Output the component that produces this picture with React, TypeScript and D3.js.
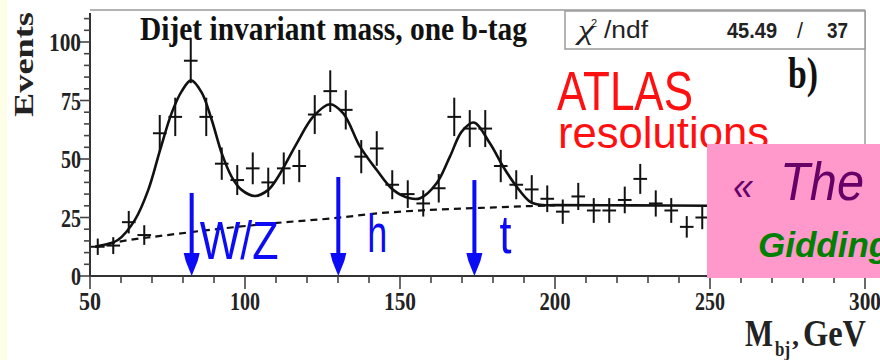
import React from 'react';
import * as d3 from 'd3';

// ---- data ----
const binCenters = [52.5, 57.5, 62.5, 67.5, 72.5, 77.5, 82.5, 87.5, 92.5, 97.5, 102.5, 107.5, 112.5, 117.5, 122.5, 127.5, 132.5, 137.5, 142.5, 147.5, 152.5, 157.5, 162.5, 167.5, 172.5, 177.5, 182.5, 187.5, 192.5, 197.5, 202.5, 207.5, 212.5, 217.5, 222.5, 227.5, 232.5, 237.5, 242.5, 247.5];
const events = [12.5, 13, 23, 17.5, 61, 68, 92, 68, 48, 41, 46, 40, 46, 47, 69, 79, 71, 51, 54.5, 39, 35, 31, 37.5, 68, 63, 63, 47, 39, 37, 33, 27.5, 34, 28, 28, 32.5, 41.5, 31, 28, 21, 25];
const eventErrors = [3.5, 3.6, 4.8, 4.2, 7.8, 8.2, 9.6, 8.2, 6.9, 6.4, 6.8, 6.3, 6.8, 6.9, 8.3, 8.9, 8.4, 7.1, 7.4, 6.2, 5.9, 5.6, 6.1, 8.2, 7.9, 7.9, 6.9, 6.2, 6.1, 5.7, 5.2, 5.8, 5.3, 5.3, 5.7, 6.4, 5.6, 5.3, 4.6, 5.0];
const binHalfWidth = 2.2;

const fitMass = [51.6, 55, 59, 64.5, 68.8, 72.6, 76.3, 79.6, 82.6, 86, 89.2, 92.5, 95.7, 98.9, 103.2, 107.5, 110.7, 116.7, 122, 127.4, 131.7, 137.1, 142.5, 147.8, 153.2, 156.5, 161.8, 166.1, 169.9, 173.8, 179, 183.3, 187.6, 191.9, 195.2, 200, 225, 250, 275, 300];
const fitEvents = [12.5, 13.5, 15.4, 24, 36.8, 53.8, 69.5, 79, 83.6, 78.5, 67, 52.4, 42.4, 36.8, 34.2, 36.8, 42.4, 56.7, 68.1, 73.4, 69.5, 55.3, 45.3, 36.8, 33.2, 33.2, 39.6, 51, 61.7, 65.6, 56.7, 46.7, 38.2, 31.8, 30.4, 30.3, 30.2, 30, 30, 30];

const bgMass = [52, 60, 75, 81, 113, 128, 143, 159, 176, 192, 200];
const bgEvents = [12.5, 14.8, 17.5, 18.5, 23, 24.6, 26.8, 28.2, 29.1, 29.9, 30.2];

const arrowMass = [82.8, 130.1, 174];
const arrowTop = [35.5, 42.3, 41];
const arrowLabels = ['W/Z', 'h', 't'];

const xTickLabels = [50, 100, 150, 200, 250, 300];
const yTickLabels = [0, 25, 50, 75, 100];
const titleText = 'Dijet invariant mass, one b-tag';
const chi2Value = '45.49';
const ndfValue = '37';

const W = 880;
const H = 360;

export default function App() {
  const x = d3.scaleLinear().domain([50, 300]).range([90, 865]);
  const y = d3.scaleLinear().domain([0, 100]).range([276, 42]);

  const fitLine = d3
    .line<number>()
    .x((_, i) => x(fitMass[i]))
    .y((d) => y(d))
    .curve(d3.curveCatmullRom.alpha(0.5));
  const bgLine = d3
    .line<number>()
    .x((_, i) => x(bgMass[i]))
    .y((d) => y(d))
    .curve(d3.curveMonotoneX);

  const minorX = d3.range(50, 301, 10);
  const minorY = d3.range(0, 111, 5);

  const serif = 'Liberation Serif, Times New Roman, serif';
  const sans = 'Liberation Sans, Arial, sans-serif';
  const blue = '#0b0bf5';

  const yLabelW: Record<number, number> = { 0: 10, 25: 20, 50: 20, 75: 20, 100: 32 };
  const xLabelW: Record<number, number> = { 50: 22, 100: 30, 150: 32, 200: 31, 250: 30, 300: 32 };
  const labelDx = [8, 29, 25];
  const labelBase = [259, 252, 253];
  const labelW = [79, 20, 12];

  return (
    <svg
      width={W}
      height={H}
      viewBox={`0 0 ${W} ${H}`}
      style={{ position: 'absolute', left: 0, top: 0, background: '#ffffff' }}
    >
      <rect x={0} y={0} width={W} height={H} fill="#ffffff" />
      <rect x={0} y={0} width={7} height={H} fill="#fdfde8" />

      {/* frame */}
      <line x1={90} x2={865} y1={10} y2={10} stroke="#9a9a9a" strokeWidth={1.5} />
      <line x1={865} x2={865} y1={10} y2={276} stroke="#9a9a9a" strokeWidth={1.5} />

      {/* y axis */}
      <line x1={90} x2={90} y1={13} y2={277} stroke="#333" strokeWidth={2} />
      {minorY.map((v) => (
        <line
          key={'yt' + v}
          x1={v % 25 === 0 ? 80 : 84}
          x2={90}
          y1={y(v)}
          y2={y(v)}
          stroke="#444"
          strokeWidth={1.6}
        />
      ))}
      {yTickLabels.map((v) => (
        <text
          key={'yl' + v}
          x={81 - yLabelW[v]}
          y={y(v) + 9}
          fontFamily={serif}
          fontWeight="bold"
          fontSize={26}
          fill="#222"
          textLength={yLabelW[v]}
          lengthAdjust="spacingAndGlyphs"
        >
          {v}
        </text>
      ))}

      {/* x axis */}
      <line x1={89} x2={865} y1={276} y2={276} stroke="#333" strokeWidth={2} />
      {minorX.map((v) => (
        <line
          key={'xt' + v}
          x1={x(v)}
          x2={x(v)}
          y1={276}
          y2={v % 50 === 0 ? 289 : 283}
          stroke="#444"
          strokeWidth={1.6}
        />
      ))}
      {xTickLabels.map((v) => (
        <text
          key={'xl' + v}
          x={x(v) - xLabelW[v] / 2}
          y={310}
          fontFamily={serif}
          fontWeight="bold"
          fontSize={26}
          fill="#222"
          textLength={xLabelW[v]}
          lengthAdjust="spacingAndGlyphs"
        >
          {v}
        </text>
      ))}

      {/* axis titles */}
      <text
        transform="translate(33,117) rotate(-90)"
        x={0}
        y={0}
        fontFamily={serif}
        fontWeight="bold"
        fontSize={27}
        fill="#222"
        textLength={105}
        lengthAdjust="spacingAndGlyphs"
      >
        Events
      </text>
      <text x={745} y={346} fontFamily={serif} fontWeight="bold" fontSize={37} fill="#222" textLength={28} lengthAdjust="spacingAndGlyphs">
        M
      </text>
      <text x={775} y={356} fontFamily={serif} fontWeight="bold" fontSize={22} fill="#222" textLength={15} lengthAdjust="spacingAndGlyphs">
        bj
      </text>
      <text x={792} y={345} fontFamily={serif} fontWeight="bold" fontSize={28} fill="#222">
        ,
      </text>
      <text x={803} y={346} fontFamily={serif} fontWeight="bold" fontSize={37} fill="#222" textLength={63} lengthAdjust="spacingAndGlyphs">
        GeV
      </text>

      {/* title */}
      <text x={140} y={40} fontFamily={serif} fontWeight="bold" fontSize={34} fill="#111" textLength={387} lengthAdjust="spacingAndGlyphs">
        {titleText}
      </text>

      {/* chi2 box */}
      <rect x={565} y={11} width={300} height={38} fill="#fff" stroke="#9a9a9a" strokeWidth={1.5} />
      <text x={578} y={39} fontFamily={serif} fontStyle="italic" fontSize={27} fill="#222" textLength={16} lengthAdjust="spacingAndGlyphs">
        χ
      </text>
      <text x={591} y={27} fontFamily={sans} fontSize={11} fill="#222">
        2
      </text>
      <text x={604} y={38} fontFamily={sans} fontSize={23} fill="#222" textLength={44} lengthAdjust="spacingAndGlyphs">
        /ndf
      </text>
      <text x={727} y={38} fontFamily={sans} fontWeight="bold" fontSize={22} fill="#222" textLength={50} lengthAdjust="spacingAndGlyphs">
        {chi2Value}
      </text>
      <text x={797} y={38} fontFamily={sans} fontSize={22} fill="#222" textLength={6} lengthAdjust="spacingAndGlyphs">
        /
      </text>
      <text x={827} y={38} fontFamily={sans} fontWeight="bold" fontSize={22} fill="#222" textLength={21} lengthAdjust="spacingAndGlyphs">
        {ndfValue}
      </text>

      {/* b) */}
      <text x={788} y={88} fontFamily={serif} fontWeight="bold" fontSize={44} fill="#111" textLength={30} lengthAdjust="spacingAndGlyphs">
        b)
      </text>

      {/* background fit (dashed) */}
      <path d={bgLine(bgEvents) || ''} fill="none" stroke="#111" strokeWidth={2.2} strokeDasharray="7 5" />
      {/* full fit */}
      <path d={fitLine(fitEvents) || ''} fill="none" stroke="#111" strokeWidth={2.6} />

      {/* data points */}
      {binCenters.map((c, i) => (
        <g key={'p' + i} stroke="#111" strokeWidth={2}>
          <line x1={x(c - binHalfWidth)} x2={x(c + binHalfWidth)} y1={y(events[i])} y2={y(events[i])} />
          <line x1={x(c)} x2={x(c)} y1={y(events[i] - eventErrors[i])} y2={y(events[i] + eventErrors[i])} />
        </g>
      ))}

      {/* ATLAS resolutions */}
      <text x={557} y={110} fontFamily={sans} fontSize={55} fill="#ff1010" textLength={136} lengthAdjust="spacingAndGlyphs">
        ATLAS
      </text>
      <text x={558} y={148} fontFamily={sans} fontSize={45} fill="#ff1010" textLength={211} lengthAdjust="spacingAndGlyphs">
        resolutions
      </text>

      {/* arrows */}
      {arrowMass.map((m, i) => {
        const ax = x(m);
        const top = y(arrowTop[i]);
        const tip = y(0);
        return (
          <g key={'a' + i}>
            <line x1={ax} x2={ax} y1={top} y2={tip - 18} stroke={blue} strokeWidth={4} />
            <polygon
              points={`${ax - 8},${tip - 23} ${ax + 8},${tip - 23} ${ax + 6},${tip - 15} ${ax},${tip} ${ax - 6},${tip - 15}`}
              fill={blue}
            />
            <text
              x={ax + labelDx[i]}
              y={labelBase[i]}
              fontFamily={sans}
              fontSize={54}
              fill={blue}
              textLength={labelW[i]}
              lengthAdjust="spacingAndGlyphs"
            >
              {arrowLabels[i]}
            </text>
          </g>
        );
      })}

      {/* pink overlay */}
      <rect x={707} y={144} width={180} height={134} fill="#ff99cc" />
      <text x={733} y={200} fontFamily={sans} fontStyle="italic" fontSize={40} fill="#660066" textLength={20} lengthAdjust="spacingAndGlyphs">
        «
      </text>
      <text x={780} y={200} fontFamily={sans} fontStyle="italic" fontSize={53} fill="#660066" textLength={84} lengthAdjust="spacingAndGlyphs">
        The
      </text>
      <text x={758} y={257} fontFamily={sans} fontStyle="italic" fontWeight="bold" fontSize={35} fill="#008000">
        Gidding
      </text>
    </svg>
  );
}
